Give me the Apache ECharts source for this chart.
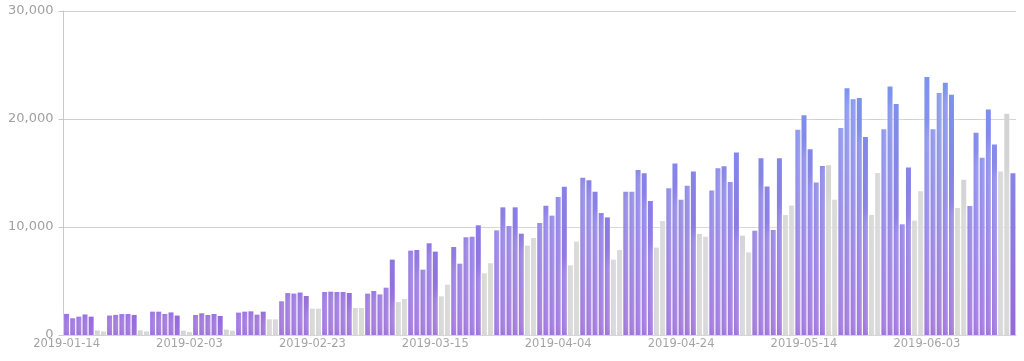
<!DOCTYPE html>
<html>
<head>
<meta charset="utf-8">
<script src="https://cdn.jsdelivr.net/npm/echarts@6/dist/echarts.min.js"></script>
<style>
html,body{margin:0;padding:0;background:#fff;}
#chart{width:1024px;height:361px;}
</style>
</head>
<body>
<div id="chart"></div>
<script>
// Daily values starting Monday 2019-01-14 (155 days)
const startDate = '2019-01-14';
const dayCount = 155;
const values = [
  1950,1550,1700,1900,1700,420,330,
  1800,1860,1940,1940,1860,420,330,
  2160,2160,1950,2090,1800,400,270,
  1850,2010,1850,1945,1760,500,400,
  2070,2160,2190,1880,2160,1450,1450,
  3120,3880,3830,3930,3610,2440,2440,
  3980,4010,3980,3980,3890,2500,2500,
  3830,4070,3760,4380,6980,3050,3330,
  7810,7870,6050,8490,7720,3580,4660,
  8150,6600,9050,9100,10160,5710,6640,
  9690,11820,10090,11820,9380,8270,8980,
  10370,11970,11050,12780,13730,6450,8640,
  14570,14320,13270,11290,10890,6970,7870,
  13270,13270,15280,14970,12410,8090,10550,
  13580,15890,12530,13830,15150,9350,9100,
  13390,15430,15620,14160,16900,9200,7650,
  9660,16360,13760,9720,16360,11110,12000,
  19010,20340,17190,14130,15650,15710,12530,
  19160,22840,21820,21940,18330,11110,15000,
  19040,23020,21390,10250,15520,10590,13300,
  23890,19040,22400,23360,22250,11760,14380,
  11940,18730,16420,20890,17650,15150,20490,
  14970
];
const yTicks = [0, 10000, 20000, 30000];

function pad(n){return n < 10 ? '0' + n : '' + n;}
const categories = [];
const weekend = [];
{
  const p = startDate.split('-').map(Number);
  for (let i = 0; i < dayCount; i++) {
    const d = new Date(Date.UTC(p[0], p[1]-1, p[2] + i));
    categories.push(d.getUTCFullYear() + '-' + pad(d.getUTCMonth()+1) + '-' + pad(d.getUTCDate()));
    const wd = d.getUTCDay();
    weekend.push(wd === 0 || wd === 6);
  }
}

const grad = {
  type: 'linear', x: 0, y: 11, x2: 0, y2: 335, global: true,
  colorStops: [{offset: 0, color: '#73a0f5'}, {offset: 1, color: '#9868da'}]
};

const seriesData = values.map((v, i) => weekend[i]
  ? {value: v, itemStyle: {color: '#d3d3d3'}}
  : {value: v});

const chart = echarts.init(document.getElementById('chart'), null, {renderer: 'canvas'});
chart.setOption({
  animation: false,
  backgroundColor: '#fff',
  grid: {left: 63.5, right: 8, top: 11, bottom: 26, containLabel: false},
  xAxis: {
    type: 'category',
    data: categories,
    boundaryGap: true,
    axisLine: {lineStyle: {color: '#c8c8c8', width: 1}},
    axisTick: {alignWithLabel: true, interval: 19, length: 4, lineStyle: {color: '#c8c8c8'}},
    axisLabel: {interval: 19, margin: 3, color: '#a0a0a0', fontSize: 11.5, fontFamily: 'DejaVu Sans'},
    splitLine: {show: false}
  },
  yAxis: {
    type: 'value',
    min: yTicks[0],
    max: yTicks[yTicks.length - 1],
    interval: yTicks[1] - yTicks[0],
    axisLine: {show: true, lineStyle: {color: '#c8c8c8', width: 1}},
    axisTick: {show: true, length: 5, lineStyle: {color: '#c8c8c8'}},
    axisLabel: {margin: 10, color: '#a0a0a0', fontSize: 13, fontFamily: 'DejaVu Sans',
      formatter: v => v.toLocaleString('en-US')},
    splitLine: {show: true, lineStyle: {color: '#cfcfcf', width: 1}}
  },
  series: [{
    type: 'bar',
    data: seriesData,
    barCategoryGap: '19%',
    itemStyle: {color: grad, shadowColor: 'rgba(255,255,255,0.7)', shadowBlur: 12}
  }]
});
</script>
</body>
</html>
